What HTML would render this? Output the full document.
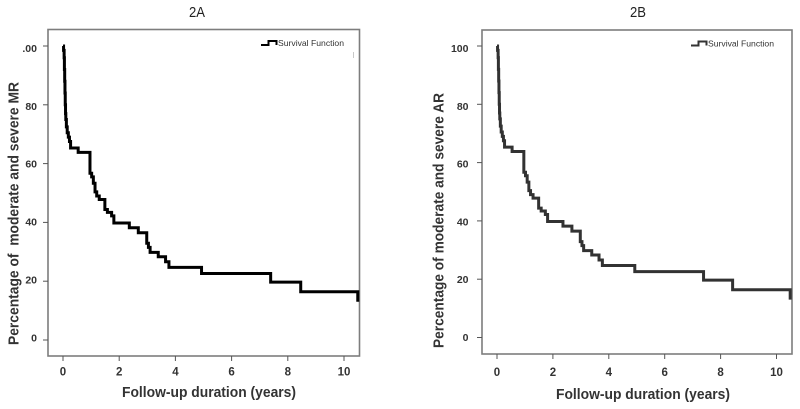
<!DOCTYPE html>
<html lang="en">
<head>
<meta charset="utf-8">
<title>Survival charts 2A and 2B</title>
<style>
  html, body { margin: 0; padding: 0; background: #fff; }
  body { width: 800px; height: 409px; overflow: hidden; }
  svg { display: block; }
  text { font-family: "Liberation Sans", sans-serif; white-space: pre; }
</style>
</head>
<body>
<svg id="figure" width="800" height="409" viewBox="0 0 800 409" xmlns="http://www.w3.org/2000/svg">
  <defs>
    <filter id="soft" x="-5%" y="-5%" width="110%" height="110%"><feGaussianBlur stdDeviation="0.35"/></filter>
  </defs>
  <rect width="800" height="409" fill="#fff"/>
  <line x1="353.5" x2="353.5" y1="52" y2="58" stroke="#c8c8c8" stroke-width="1"/>
</svg>
<script>
var xTicks = [0, 2, 4, 6, 8, 10];
var yTicks = [0, 20, 40, 60, 80, 100];
var yTickLabelsA = ['0', '20', '40', '60', '80', '.00'];
var yTickLabelsB = ['0', '20', '40', '60', '80', '100'];
var timesA = [0, 0.02, 0.04, 0.05, 0.06, 0.07, 0.08, 0.09, 0.1, 0.12, 0.15, 0.19, 0.23, 0.27, 0.54, 0.96, 1.02, 1.08, 1.14, 1.2, 1.29, 1.49, 1.58, 1.73, 1.81, 2.36, 2.68, 2.98, 3.04, 3.1, 3.39, 3.65, 3.77, 4.93, 7.39, 8.46, 10.49];
var survivalA = [100, 98.5, 96, 92, 88, 84, 80, 77, 75, 72.5, 70.5, 69, 67.5, 65.3, 63.8, 56.7, 55.5, 53.3, 50.4, 49, 47.8, 44.4, 43.4, 42.2, 39.8, 38.2, 36.5, 32.9, 31.5, 29.8, 28.3, 26.6, 24.7, 22.6, 19.7, 16.4, 13];
var timesB = [0, 0.02, 0.04, 0.05, 0.06, 0.07, 0.08, 0.09, 0.1, 0.12, 0.15, 0.19, 0.23, 0.27, 0.54, 0.96, 1.02, 1.08, 1.14, 1.2, 1.29, 1.49, 1.58, 1.73, 1.81, 2.36, 2.68, 2.98, 3.04, 3.1, 3.39, 3.65, 3.77, 4.93, 7.39, 8.43, 10.49];
var survivalB = [100, 98.5, 96, 92, 88, 84, 80, 77, 75, 72.5, 70.5, 69, 67.5, 65.3, 63.8, 56.7, 55.5, 53.3, 50.4, 49, 47.8, 44.4, 43.4, 42.2, 39.8, 38.2, 36.5, 32.9, 31.5, 29.8, 28.3, 26.6, 24.7, 22.6, 19.7, 16.4, 13];

var NS = 'http://www.w3.org/2000/svg';
var figure = document.getElementById('figure');

function make(tag, attrs, parent, content) {
  var el = document.createElementNS(NS, tag);
  for (var k in attrs) { el.setAttribute(k, attrs[k]); }
  if (content !== undefined) { el.textContent = content; }
  parent.appendChild(el);
  return el;
}

function drawChart(cfg) {
  var g = make('g', {}, figure);
  
  
  var sx = function (v) { return cfg.x0 + (v / 10) * (cfg.x10 - cfg.x0); };
  var sy = function (v) { return cfg.y0 + (v / 100) * (cfg.y100 - cfg.y0); };
  var labelY = function (v) { return cfg.labelY0 + (v / 100) * (cfg.labelY100 - cfg.labelY0); };

  var title = make('text', { x: cfg.titleX, y: 17, 'font-size': 15, fill: '#222', 'text-anchor': 'middle', textLength: 16, lengthAdjust: 'spacingAndGlyphs' }, g, cfg.title);
  
  

  var frame = make('rect', { x: cfg.left, y: cfg.top, width: cfg.right - cfg.left, height: cfg.bottom - cfg.top, fill: 'none', stroke: '#7d7d7d', 'stroke-width': 1.6 }, g);
  
  

  yTicks.forEach(function (t, i) {
    var y = sy(t);
    var tick = make('line', { x1: cfg.left - 5, x2: cfg.left, y1: y, y2: y, stroke: '#555', 'stroke-width': 1 }, g);
    
    
    var lab = make('text', { x: cfg.yLabelRight, y: labelY(t) + 4, 'font-size': 10.5, 'font-weight': 'bold', fill: '#333', 'text-anchor': 'end' }, g, cfg.yLabels[i]);
    
    
  });

  xTicks.forEach(function (t) {
    var x = sx(t);
    var tick = make('line', { x1: x, x2: x, y1: cfg.bottom, y2: cfg.bottom + 5, stroke: '#555', 'stroke-width': 1 }, g);
    
    
    var lab = make('text', { x: x, y: cfg.xLabelBase, 'font-size': 11.5, 'font-weight': 'bold', fill: '#333', 'text-anchor': 'middle' }, g, String(t));
    
    
  });

  var d = 'M' + sx(cfg.times[0]) + ' ' + sy(cfg.values[0]);
  for (var i = 1; i < cfg.times.length; i++) {
    d += 'H' + sx(cfg.times[i]) + 'V' + sy(cfg.values[i]);
  }
  var line = make('path', { d: d, fill: 'none', stroke: cfg.lineColor, 'stroke-width': 3, 'stroke-linejoin': 'miter', filter: 'url(#soft)' }, g);
  
  

  var icon = make('path', { d: 'M' + cfg.legendX + ' ' + (cfg.legendY + 2.5) + 'h7.5v-4h8v4', fill: 'none', stroke: cfg.lineColor, 'stroke-width': 2 }, g);
  
  
  var legend = make('text', { x: cfg.legendX + 17, y: cfg.legendY + 3.5, 'font-size': 8.4, fill: '#333', textLength: 66, lengthAdjust: 'spacingAndGlyphs' }, g, 'Survival Function');
  
  

  var xTitle = make('text', { x: cfg.xTitleX, y: cfg.xTitleY, 'font-size': 14.5, 'font-weight': 'bold', fill: '#333', textLength: cfg.xTitleLen, lengthAdjust: 'spacingAndGlyphs' }, g, 'Follow-up duration (years)');
  
  

  var yTitle = make('text', { transform: 'translate(' + cfg.yTitleX + ' ' + cfg.yTitleBottom + ') rotate(-90)', x: 0, y: 0, 'font-size': 14.5, 'font-weight': 'bold', fill: '#333', textLength: cfg.yTitleLen, lengthAdjust: 'spacingAndGlyphs' }, g, cfg.yTitle);
  
  
}

drawChart({
  id: 'chart-2a', title: '2A', titleX: 197,
  left: 48, right: 359.5, top: 29.5, bottom: 356,
  x0: 63, x10: 344, y0: 340, y100: 46,
  labelY0: 337.3, labelY100: 48, yLabelRight: 37, xLabelBase: 375.5,
  yLabels: yTickLabelsA, times: timesA, values: survivalA,
  lineColor: '#000', legendX: 261, legendY: 42.5,
  xTitleX: 122, xTitleY: 397, xTitleLen: 174,
  yTitleX: 18.5, yTitleBottom: 345, yTitleLen: 263,
  yTitle: 'Percentage of  moderate and severe MR'
});

drawChart({
  id: 'chart-2b', title: '2B', titleX: 638,
  left: 482, right: 792, top: 30, bottom: 354,
  x0: 497, x10: 776.5, y0: 337.5, y100: 46,
  labelY0: 337, labelY100: 48, yLabelRight: 468.5, xLabelBase: 376,
  yLabels: yTickLabelsB, times: timesB, values: survivalB,
  lineColor: '#333', legendX: 691, legendY: 43,
  xTitleX: 556, xTitleY: 399, xTitleLen: 174,
  yTitleX: 443.5, yTitleBottom: 348, yTitleLen: 255,
  yTitle: 'Percentage of moderate and severe AR'
});
</script>
</body>
</html>
